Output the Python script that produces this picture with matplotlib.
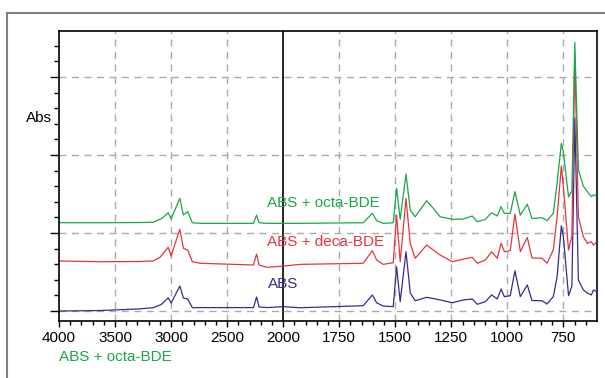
import matplotlib
matplotlib.use("Agg")
import matplotlib.pyplot as plt
from matplotlib.ticker import FixedLocator, NullFormatter
from matplotlib.lines import Line2D
import numpy as np

plt.rcParams['font.family'] = ['Liberation Sans', 'DejaVu Sans']

# wavenumber (cm-1) shared by the three spectra
wavenumber = [4000, 3634, 3300, 3160, 3100, 3082, 3026, 3000, 2922, 2890,
              2852, 2810, 2740, 2265, 2237, 2215, 2143, 2000, 1924, 1643,
              1602, 1583, 1554, 1509, 1494, 1478, 1452, 1433, 1411, 1360,
              1330, 1300, 1245, 1196, 1156, 1134, 1098, 1070, 1045, 1028,
              1013, 987, 966, 942, 911, 890, 845, 823, 795, 778,
              759, 750, 727, 712, 699, 683, 661, 643, 625, 616,
              600]

abs_plain = [0.000, 0.003, 0.013, 0.021, 0.038, 0.045, 0.085, 0.051, 0.160, 0.083,
             0.077, 0.021, 0.022, 0.022, 0.090, 0.026, 0.022, 0.028, 0.021, 0.034,
             0.103, 0.053, 0.032, 0.028, 0.283, 0.060, 0.380, 0.115, 0.066, 0.088,
             0.080, 0.071, 0.053, 0.071, 0.077, 0.043, 0.060, 0.103, 0.077, 0.141,
             0.092, 0.098, 0.258, 0.092, 0.167, 0.067, 0.066, 0.045, 0.092, 0.220,
             0.547, 0.476, 0.098, 0.160, 1.237, 0.199, 0.135, 0.115, 0.103, 0.135,
             0.124]

abs_deca = [0.321, 0.316, 0.317, 0.321, 0.344, 0.359, 0.408, 0.353, 0.524, 0.402,
            0.391, 0.316, 0.306, 0.295, 0.365, 0.295, 0.280, 0.288, 0.299, 0.306,
            0.387, 0.327, 0.299, 0.310, 0.615, 0.316, 0.722, 0.434, 0.338, 0.423,
            0.391, 0.359, 0.316, 0.333, 0.344, 0.306, 0.327, 0.380, 0.338, 0.434,
            0.380, 0.387, 0.622, 0.380, 0.471, 0.340, 0.338, 0.306, 0.391, 0.604,
            0.929, 0.797, 0.391, 0.480, 1.641, 0.604, 0.476, 0.434, 0.444, 0.423,
            0.444]

abs_octa = [0.566, 0.566, 0.567, 0.569, 0.588, 0.594, 0.630, 0.590, 0.722, 0.615,
            0.637, 0.566, 0.562, 0.562, 0.615, 0.566, 0.562, 0.562, 0.562, 0.566,
            0.626, 0.579, 0.562, 0.566, 0.787, 0.588, 0.878, 0.647, 0.604, 0.707,
            0.658, 0.604, 0.588, 0.590, 0.609, 0.572, 0.588, 0.630, 0.609, 0.669,
            0.626, 0.626, 0.765, 0.615, 0.685, 0.593, 0.598, 0.579, 0.626, 0.819,
            1.075, 1.019, 0.731, 0.770, 1.722, 0.904, 0.801, 0.765, 0.733, 0.744,
            0.739]

major_x = [4000, 3500, 3000, 2500, 2000, 1750, 1500, 1250, 1000, 750]
minor_x = list(range(3900, 2000, -100)) + list(range(1950, 600, -50))

green = '#1aa64a'
red = '#e8333f'
blue = '#3b2a8e'


# x axis is compressed 2:1 above 2000 cm-1
def fwd(x):
    x = np.asarray(x, dtype=float)
    return np.where(x > 2000, 2000 + (x - 2000) / 2, x)


def inv(t):
    t = np.asarray(t, dtype=float)
    return np.where(t > 2000, 2000 + (t - 2000) * 2, t)


fig = plt.figure(figsize=(6.05, 3.78), dpi=100)
ax = fig.add_axes([59 / 605, 1 - 321 / 378, 538 / 605, 290 / 378])
ax.set_xscale('function', functions=(fwd, inv))

ax.plot(wavenumber, abs_plain, color=blue, lw=0.9)
ax.plot(wavenumber, abs_deca, color=red, lw=0.9)
ax.plot(wavenumber, abs_octa, color=green, lw=0.9)

ax.set_xlim(4000, 600)
ax.set_ylim(-0.064, 1.795)

# grid
for gx in major_x:
    if gx == 2000 or gx == 4000:
        continue
    ax.axvline(gx, color='#aaaaaa', lw=1.0, ls=(0, (5, 4)), zorder=0)
for gy in [0, 0.5, 1.0, 1.5]:
    ax.axhline(gy, color='#aaaaaa', lw=1.0, ls=(0, (5, 4)), zorder=0)
ax.axvline(2000, color='black', lw=1.2, zorder=1)

ax.xaxis.set_major_locator(FixedLocator(major_x))
ax.xaxis.set_minor_locator(FixedLocator(minor_x))
ax.xaxis.set_minor_formatter(NullFormatter())
ax.set_xticklabels([str(v) for v in major_x])
ax.yaxis.set_major_locator(FixedLocator([0, 0.5, 1.0, 1.5]))
ax.yaxis.set_minor_locator(FixedLocator(np.arange(0, 1.75, 0.1)))
ax.set_yticklabels([])

ax.tick_params(axis='x', which='major', length=4.5, width=1, labelsize=11, pad=3, direction='out')
ax.tick_params(axis='x', which='minor', length=2.8, width=1, direction='out')
ax.tick_params(axis='y', which='major', length=6.5, width=1, direction='out')
ax.tick_params(axis='y', which='minor', length=3.6, width=1, direction='out')

for side in ['left', 'bottom', 'top']:
    ax.spines[side].set_linewidth(1.2)
ax.spines['right'].set_linewidth(1.5)
ax.spines['right'].set_color('#333333')

# labels
ax.text(2140, 0.692, 'ABS + octa-BDE', color=green, fontsize=11, va='center', ha='left')
ax.text(2140, 0.442, 'ABS + deca-BDE', color=red, fontsize=11, va='center', ha='left')
ax.text(2140, 0.173, 'ABS', color=blue, fontsize=11, va='center', ha='left')

fig.text(52 / 605, 1 - 118 / 378, 'Abs', fontsize=11, ha='right', va='center')
fig.text(59 / 605, 1 - 357 / 378, 'ABS + octa-BDE', color=green, fontsize=11, ha='left', va='center')

# outer frame
fig.add_artist(Line2D([7 / 605, 1.0], [1 - 13 / 378, 1 - 13 / 378],
                      transform=fig.transFigure, color='#808080', lw=1.5))
fig.add_artist(Line2D([7 / 605, 7 / 605], [0, 1 - 13 / 378],
                      transform=fig.transFigure, color='#808080', lw=1.5))

fig.savefig('out.png', dpi=100)
